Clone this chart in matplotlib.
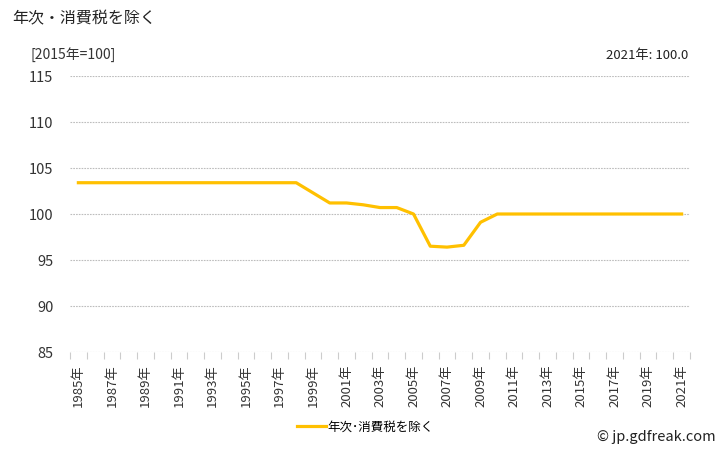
import matplotlib
matplotlib.use("Agg")
import matplotlib.pyplot as plt
import numpy as np

plt.rcParams['font.family'] = ['Noto Sans CJK JP', 'DejaVu Sans']

years = list(range(1985, 2022))
values = [103.4]*14 + [102.3, 101.2, 101.2, 101.0, 100.7, 100.7, 100.0,
          96.5, 96.4, 96.6, 99.1] + [100.0]*12
tick_labels = [f"{y}年" for y in years]
series_name = "年次・消費税を除く"

fig = plt.figure(figsize=(7.28, 4.5), dpi=100)
ax = fig.add_axes([70/728, 1-352/450, 620/728, 276/450])

x = np.arange(len(years))
ax.plot(x, values, color='#FFC000', lw=2.3, label='年次･消費税を除く', solid_joinstyle='round')

ax.set_xlim(-0.5, len(years)-0.5)
ax.set_ylim(85, 115)
ax.set_yticks(range(85, 116, 5))
for v in range(85, 116, 5):
    ax.axhline(v, color='#bdbdbd', lw=0.8, ls=(0, (1.5, 1)), zorder=0)
for s in ax.spines.values():
    s.set_visible(False)
ax.tick_params(axis='y', length=0, labelsize=10.5, pad=12, colors='#333333')
ax.set_xticks(x[::2])
ax.set_xticklabels(tick_labels[::2], rotation=90, fontsize=9.5, color='#333333')
ax.set_xticks(np.arange(-0.5, len(years)), minor=True)
ax.tick_params(axis='x', which='major', length=0, pad=9)
ax.tick_params(axis='x', which='minor', length=5, color='#cccccc', width=0.8)

fig.text(12/728, 1-19/450, series_name, fontsize=11.5, va='center', ha='left', color='#222222')
fig.text(30/728, 1-55/450, "[2015年=100]", fontsize=10, va='center', ha='left', color='#333333')
fig.text(688/728, 1-55/450, "2021年: 100.0", fontsize=9.5, va='center', ha='right', color='#222222')
fig.text(716/728, 1-437/450, "© jp.gdfreak.com", fontsize=10.5, va='center', ha='right', color='#222222')

leg = fig.legend(loc='center', bbox_to_anchor=(365/728, 1-427/450), frameon=False,
                 fontsize=9, handlelength=2.3, handletextpad=0.1)

fig.savefig("out.png", dpi=100)
